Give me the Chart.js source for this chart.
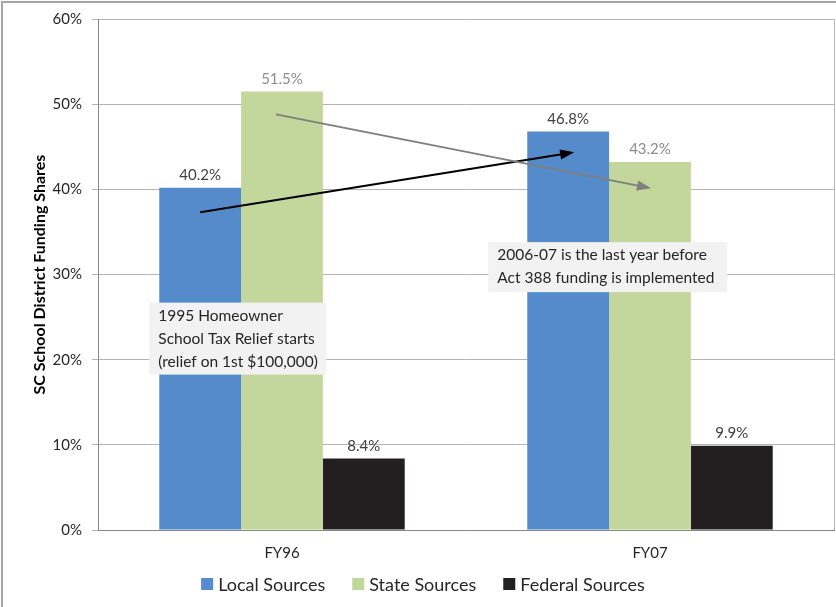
<!DOCTYPE html>
<html>
<head>
<meta charset="utf-8">
<script src="https://cdn.jsdelivr.net/npm/chart.js@4.4.1/dist/chart.umd.min.js"></script>
<style>
  body { margin: 0; background: #fff; }
  #wrap { width: 836px; height: 607px; position: relative; }
</style>
</head>
<body>
<div id="wrap"><canvas id="funding"></canvas></div>
<script>
const categories = ['FY96', 'FY07'];
const localShares = [40.2, 46.8];
const stateShares = [51.5, 43.2];
const federalShares = [8.4, 9.9];
const seriesNames = ['Local Sources', 'State Sources', 'Federal Sources'];
const seriesColors = ['#558ACB', '#C3D69B', '#231F20'];
const labelColors = ['#404040', '#8C8C8C', '#404040'];
const notes = [
    ['1995 Homeowner', 'School Tax Relief starts', '(relief on 1st $100,000)'],
    ['2006-07 is the last year before', 'Act 388 funding is implemented']
];

const FONT = 'Lato, "Open Sans", sans-serif';

// arrows, labels, note boxes, legend, frame
const extras = {
    id: 'extras',
    afterDatasetsDraw: (chart) => {
        const ctx = chart.ctx;
        const y = chart.scales.y;
        const area = chart.chartArea;

        // value labels above bars
        ctx.save();
        ctx.font = '15px ' + FONT;
        ctx.textAlign = 'center';
        ctx.textBaseline = 'bottom';
        chart.data.datasets.forEach((ds, di) => {
            chart.getDatasetMeta(di).data.forEach((bar, i) => {
                ctx.fillStyle = labelColors[di];
                ctx.fillText(ds.data[i].toFixed(1) + '%', bar.x, bar.y - 5);
            });
        });
        ctx.restore();

        // arrows between the years
        const barX = (di, i) => chart.getDatasetMeta(di).data[i].x;
        const arrow = (x1, y1, x2, y2, color) => {
            ctx.save();
            ctx.strokeStyle = color;
            ctx.fillStyle = color;
            ctx.lineWidth = 2;
            ctx.beginPath();
            ctx.moveTo(x1, y1);
            ctx.lineTo(x2, y2);
            ctx.stroke();
            const a = Math.atan2(y2 - y1, x2 - x1);
            ctx.beginPath();
            ctx.moveTo(x2 + 3 * Math.cos(a), y2 + 3 * Math.sin(a));
            ctx.lineTo(x2 - 11 * Math.cos(a) + 5 * Math.sin(a), y2 - 11 * Math.sin(a) - 5 * Math.cos(a));
            ctx.lineTo(x2 - 11 * Math.cos(a) - 5 * Math.sin(a), y2 - 11 * Math.sin(a) + 5 * Math.cos(a));
            ctx.closePath();
            ctx.fill();
            ctx.restore();
        };
        arrow(barX(0, 0), y.getPixelForValue(37.3), barX(0, 1) + 3, y.getPixelForValue(44.3), '#000000');
        arrow(barX(1, 0) - 6, y.getPixelForValue(48.8), barX(1, 1) - 2, y.getPixelForValue(40.2), '#7F7F7F');

        // note boxes
        const noteBox = (lines, left, top, w, h) => {
            ctx.save();
            ctx.fillStyle = '#F2F2F2';
            ctx.fillRect(left, top, w, h);
            ctx.fillStyle = '#262626';
            ctx.font = '15.5px ' + FONT;
            ctx.textAlign = 'left';
            ctx.textBaseline = 'middle';
            lines.forEach((t, k) => ctx.fillText(t, left + 9, top + 13 + k * 23));
            ctx.restore();
        };
        const b0 = chart.getDatasetMeta(0).data[0];
        const b1 = chart.getDatasetMeta(0).data[1];
        noteBox(notes[0], b0.x - b0.width / 2 - 10, y.getPixelForValue(26.7), 177, 72);
        noteBox(notes[1], b1.x - b1.width / 2 - 39, y.getPixelForValue(33.8), 239, 50);

        // legend under the axis
        ctx.save();
        ctx.font = '18px ' + FONT;
        ctx.textBaseline = 'middle';
        const gap = 27, box = 12, boxGap = 5;
        const widths = chart.data.datasets.map(ds => box + boxGap + ctx.measureText(ds.label).width);
        const total = widths.reduce((s, w) => s + w, 0) + gap * (widths.length - 1);
        let lx = (area.left + area.right) / 2 - total / 2 - 43;
        const ly = chart.height - 23;
        chart.data.datasets.forEach((ds, i) => {
            ctx.fillStyle = ds.backgroundColor;
            ctx.fillRect(lx, ly - box / 2, box, box);
            ctx.fillStyle = '#262626';
            ctx.fillText(ds.label, lx + box + boxGap, ly + 1);
            lx += widths[i] + gap;
        });
        ctx.restore();

        // plot border on the right and outer frame
        ctx.save();
        ctx.strokeStyle = '#B4B4B4';
        ctx.lineWidth = 1;
        ctx.beginPath();
        ctx.moveTo(area.right + 0.5, area.top);
        ctx.lineTo(area.right + 0.5, area.bottom);
        ctx.stroke();
        ctx.strokeStyle = '#A6A6A6';
        ctx.lineWidth = 2;
        ctx.strokeRect(2, 2, chart.width, chart.height);
        ctx.restore();
    }
};

const data = {
    labels: categories,
    datasets: [localShares, stateShares, federalShares].map((vals, i) => ({
        label: seriesNames[i],
        data: vals,
        backgroundColor: seriesColors[i],
        borderWidth: 0,
        categoryPercentage: 0.667,
        barPercentage: 1.0
    }))
};

const config = {
    type: 'bar',
    data: data,
    plugins: [extras],
    options: {
        responsive: false,
        animation: false,
        layout: { padding: { top: 8, right: 2, left: 0, bottom: 39 } },
        plugins: {
            tooltip: { enabled: false },
            legend: { display: false }
        },
        scales: {
            x: {
                grid: { display: false },
                border: { color: '#868686' },
                ticks: { color: '#262626', font: { family: FONT, size: 15 }, padding: 6 }
            },
            y: {
                min: 0,
                max: 60,
                ticks: {
                    stepSize: 10,
                    color: '#262626',
                    padding: 10,
                    font: { family: FONT, size: 15 },
                    callback: (v) => v + '%'
                },
                grid: { color: '#B4B4B4', tickLength: 6 },
                border: { color: '#868686' },
                title: {
                    display: true,
                    text: 'SC School District Funding Shares',
                    color: '#000',
                    font: { family: FONT, size: 16, weight: 'bold' },
                    padding: { top: 30, bottom: 8 }
                },
                afterFit: (scale) => { scale.width = 98; }
            }
        }
    }
};

const cv = document.getElementById('funding');
cv.width = 836;
cv.height = 607;
new Chart(cv, config);
</script>
</body>
</html>
